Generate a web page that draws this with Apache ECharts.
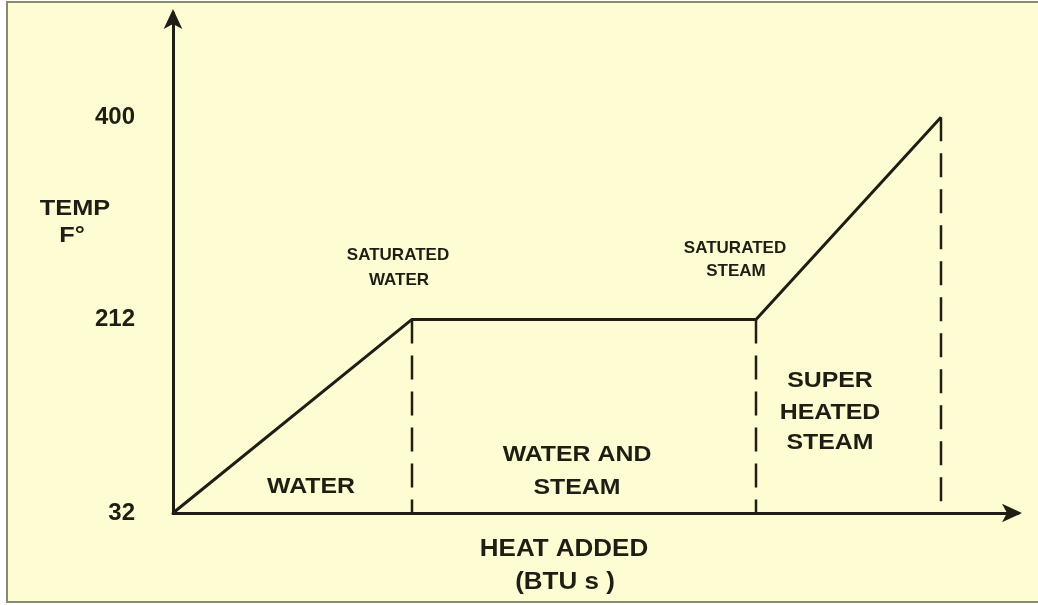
<!DOCTYPE html>
<html>
<head>
<meta charset="utf-8">
<script src="https://cdn.jsdelivr.net/npm/echarts@6/dist/echarts.min.js"></script>
<style>
    html, body { margin: 0; padding: 0; background: #fff; }
    #chart { width: 1038px; height: 605px; }
</style>
</head>
<body>
<div id="chart"></div>
<script>
// heat added (arbitrary units, no scale shown) and temperature in F
var heatPoints = [0, 239, 583, 768];
var tempPoints = [32, 212, 212, 400];
var tempTicks = [32, 212, 400];
// phase boundaries drawn as dashed drop lines
var boundaryIndex = [1, 2, 3];

var FONT = '"Liberation Sans", Arial, sans-serif';
var INK = '#1e1e14';
var PAPER = '#fefcd2';

var curve = heatPoints.map(function (x, i) { return [x, tempPoints[i]]; });

var series = [{
    type: 'line',
    data: curve,
    symbol: 'none',
    lineStyle: { color: INK, width: 3 },
    z: 5
}];

// dashed verticals from each boundary point down to the axis
boundaryIndex.forEach(function (i) {
    series.push({
        type: 'line',
        data: [[heatPoints[i], tempPoints[i]], [heatPoints[i], tempTicks[0]]],
        symbol: 'none',
        lineStyle: { color: INK, width: 2.5, type: [24, 12] },
        z: 4
    });
});

// the scan is a little stretched sideways, so labels get a scaleX
function label(text, x, y, size, sx) {
    return {
        type: 'text',
        x: x, y: y,
        scaleX: sx || 1.13,
        style: {
            text: text,
            fill: INK,
            font: 'bold ' + size + 'px ' + FONT,
            textAlign: 'center',
            textVerticalAlign: 'middle'
        },
        z: 10
    };
}

var chart = echarts.init(document.getElementById('chart'));

chart.setOption({
    backgroundColor: '#ffffff',
    animation: false,
    grid: { left: 173, right: 20, top: 13, bottom: 92, containLabel: false },
    xAxis: {
        type: 'value',
        min: 0,
        max: 845,
        axisLine: {
            show: true,
            lineStyle: { color: INK, width: 3 },
            symbol: ['none', 'arrow'],
            symbolSize: [14, 20],
            symbolOffset: [0, 4]
        },
        axisTick: { show: false },
        axisLabel: { show: false },
        splitLine: { show: false }
    },
    yAxis: {
        type: 'value',
        min: 32,
        max: 497,
        axisLine: {
            show: true,
            lineStyle: { color: INK, width: 3 },
            symbol: ['none', 'arrow'],
            symbolSize: [14, 20],
            symbolOffset: [0, 4]
        },
        axisTick: { show: false },
        axisLabel: {
            customValues: tempTicks,
            margin: 38,
            color: INK,
            fontFamily: FONT,
            fontWeight: 'bold',
            fontSize: 24
        },
        splitLine: { show: false }
    },
    graphic: [
        {
            type: 'rect',
            shape: { x: 7, y: 2, width: 1040, height: 600 },
            style: { fill: PAPER, stroke: '#8c8a6c', lineWidth: 2 },
            z: -10,
            silent: true
        },
        label('TEMP', 75, 209, 22, 1.15),
        label('F°', 72, 236, 22, 1.15),
        label('SATURATED', 398, 255, 17, 1.0),
        label('WATER', 399, 280, 17, 1.0),
        label('SATURATED', 735, 248, 17, 1.0),
        label('STEAM', 736, 271, 17, 1.0),
        label('SUPER', 830, 381, 22),
        label('HEATED', 830, 413, 22),
        label('STEAM', 830, 443, 22),
        label('WATER', 311, 487, 22),
        label('WATER AND', 577, 455, 22),
        label('STEAM', 577, 488, 22),
        label('HEAT ADDED', 564, 550, 23),
        label('(BTU s )', 565, 583, 23)
    ],
    series: series
});
</script>
</body>
</html>
